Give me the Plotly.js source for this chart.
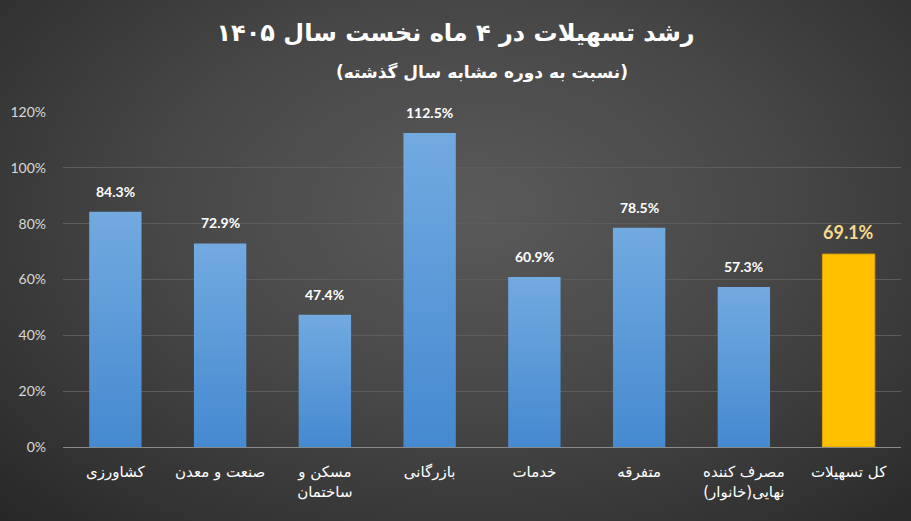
<!DOCTYPE html>
<html><head><meta charset="utf-8">
<script src="https://cdn.plot.ly/plotly-3.0.1.min.js"></script>
<style>
html,body{margin:0;padding:0;}
body{width:911px;height:521px;overflow:hidden;
background:radial-gradient(ellipse 75% 85% at 52% 40%, #5a5a5a 0%, #474747 45%, #333333 80%, #262626 100%);}
#chart{width:911px;height:521px;}
</style></head>
<body><div id="chart"></div>
<script>
const categories = ['کشاورزی','صنعت و معدن','مسکن و<br>ساختمان','بازرگانی','خدمات','متفرقه','مصرف کننده<br>نهایی(خانوار)','کل تسهیلات'];
const values = [84.3, 72.9, 47.4, 112.5, 60.9, 78.5, 57.3, 69.1];
const yTicks = [0, 20, 40, 60, 80, 100, 120];
const yTickLabels = ['0%','20%','40%','60%','80%','100%','120%'];
const titleText = 'رشد تسهیلات در ۴ ماه نخست سال ۱۴۰۵';
const subtitleText = '(نسبت به دوره مشابه سال گذشته)';

const n = values.length;
const barColors = values.map((v,i)=> i===n-1 ? '#ffc000' : '#5b9bd5');
const lineColors = values.map((v,i)=> i===n-1 ? '#d9a300' : 'rgba(0,0,0,0)');

const trace = {
  type:'bar', x:categories, y:values,
  marker:{color:barColors, line:{color:lineColors, width:1}},
  hoverinfo:'skip'
};

const labelAnnotations = values.map((v,i)=>({
  x:categories[i], y:v, xref:'x', yref:'y', text:v.toFixed(1)+'%', showarrow:false,
  xanchor:'center', yanchor:'bottom', yshift: i===n-1 ? 9 : 10,
  font:{family:'Lato', size: i===n-1 ? 18 : 14, color: i===n-1 ? '#f6d98c' : '#ffffff', weight:'bold'}
}));

const layout = {
  width:911, height:521,
  paper_bgcolor:'rgba(0,0,0,0)', plot_bgcolor:'rgba(0,0,0,0)',
  margin:{l:63, r:10, t:112, b:74},
  bargap:0.5,
  showlegend:false,
  font:{family:'DejaVu Sans', color:'#ffffff'},
  title:{text:titleText, x:0.5, xanchor:'center', y:0.938, yanchor:'middle', font:{family:'DejaVu Sans', size:24, color:'#ffffff', weight:'bold'}},
  annotations:[{text:subtitleText, xref:'paper', yref:'paper', x:0.5, y:1, yshift:40, showarrow:false, xanchor:'center', yanchor:'middle',
    font:{family:'DejaVu Sans', size:17, color:'#ffffff', weight:'bold'}}].concat(labelAnnotations),
  xaxis:{type:'category', showgrid:false, zeroline:false, showline:false, ticks:'', ticklabelstandoff:14,
    tickfont:{family:'DejaVu Sans', size:15, color:'#ffffff'}},
  yaxis:{range:[0,120], tickvals:yTicks, ticktext:yTickLabels, showgrid:true, gridcolor:'#5c5c5c', gridwidth:1,
    zeroline:true, zerolinecolor:'#8a8a8a', zerolinewidth:1, showline:false, ticks:'', ticklabelstandoff:16,
    tickfont:{family:'Lato', size:14, color:'#d9d9d9'}}
};

Plotly.newPlot('chart',[trace],layout,{displayModeBar:false, staticPlot:true}).then(gd=>{
  const svg = gd.querySelector('svg.main-svg');
  const ns = 'http://www.w3.org/2000/svg';
  let defs = svg.querySelector('defs');
  if(!defs){defs=document.createElementNS(ns,'defs');svg.insertBefore(defs,svg.firstChild);}
  const g = document.createElementNS(ns,'linearGradient');
  g.setAttribute('id','blueGrad'); g.setAttribute('x1','0'); g.setAttribute('y1','0'); g.setAttribute('x2','0'); g.setAttribute('y2','1');
  [['0','#72aae0'],['1','#4589d0']].forEach(([o,c])=>{const s=document.createElementNS(ns,'stop');s.setAttribute('offset',o);s.setAttribute('stop-color',c);g.appendChild(s);});
  defs.appendChild(g);
  const paths = gd.querySelectorAll('.bars .point path');
  paths.forEach((p,i)=>{ if(i<n-1){ p.style.fill='url(#blueGrad)'; } });
});
</script>
</body></html>
